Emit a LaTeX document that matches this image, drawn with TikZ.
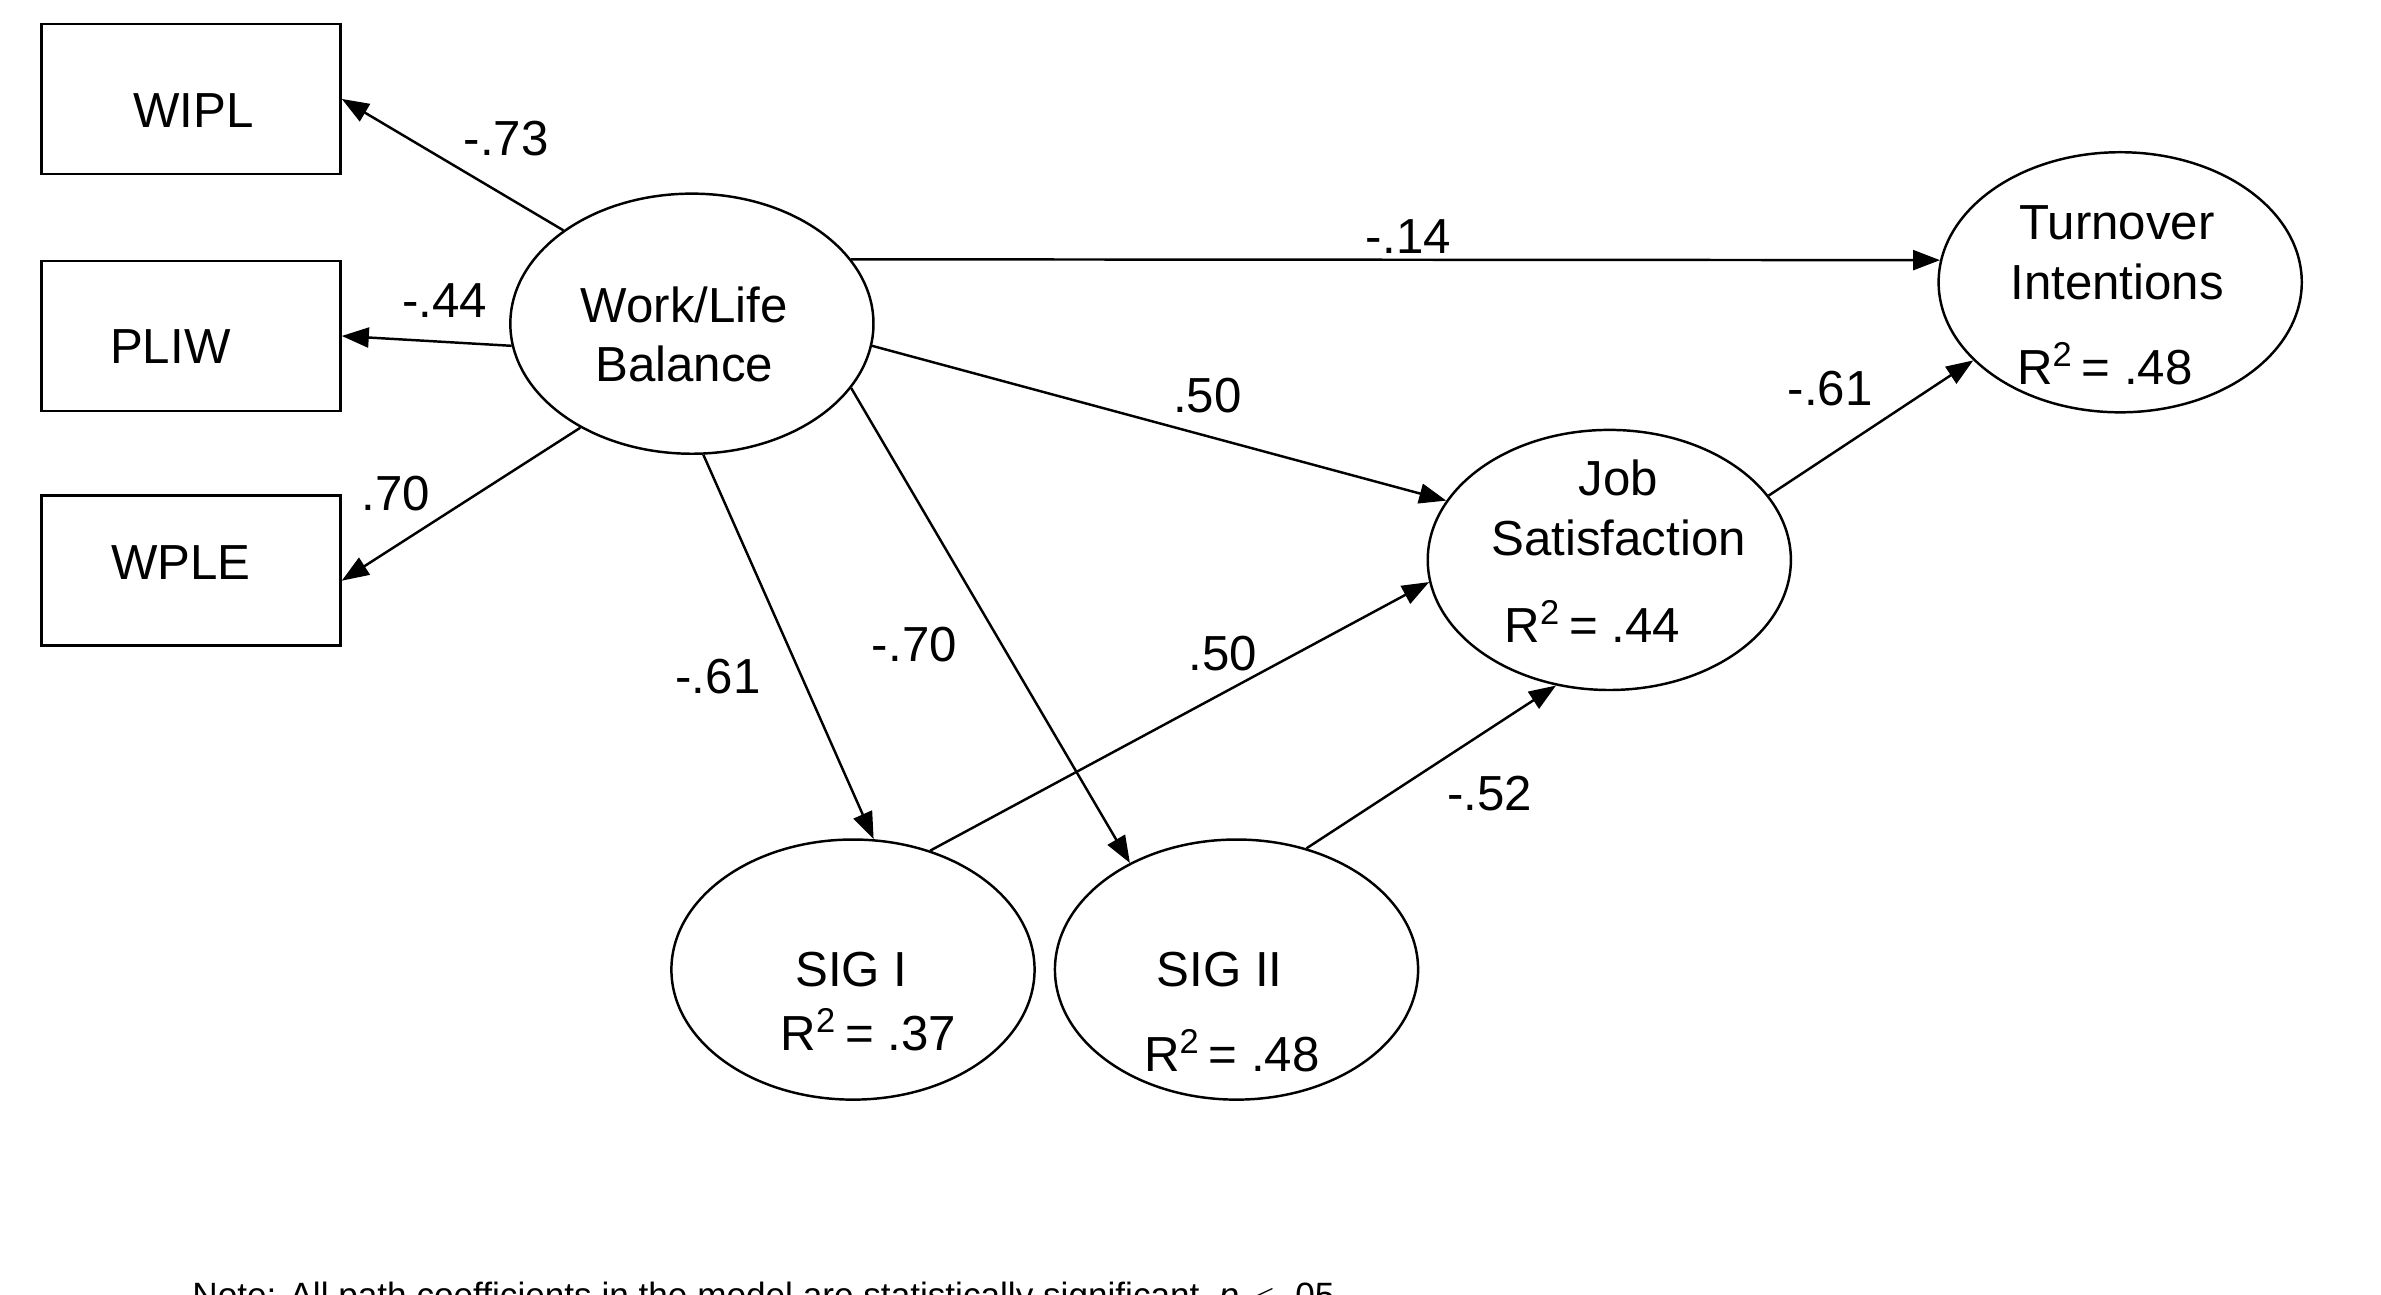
\documentclass[tikz,border=0pt]{standalone}
\usepackage{fontspec}
\setmainfont{Liberation Sans}
\usetikzlibrary{shapes.geometric,arrows.meta}

\begin{document}
\begin{tikzpicture}[x=0.01534cm,y=-0.01534cm,
    font=\fontsize{14}{17}\selectfont,
    box/.style={draw,line width=0.7pt,minimum width=2.99cm,minimum height=1.5cm,inner sep=0pt},
    latent/.style={draw,ellipse,line width=0.7pt,minimum width=3.63cm,minimum height=2.6cm,inner sep=0pt},
    path/.style={line width=0.7pt,-{Triangle[length=0.27cm,width=0.2cm]}},
    coef/.style={inner sep=0pt},
    rsq/.style={inner sep=0pt}]
    \useasboundingbox (0,0) rectangle (1552,844);
    % observed indicators
    \node[box] (wipl) at (124.5,64.5) {};
    \node[box] (pliw) at (124.5,219) {};
    \node[box] (wple) at (124.5,372) {};
    \node at (126,72) {WIPL};
    \node at (111,226) {PLIW};
    \node at (118,367) {WPLE};
    % latent variables
    \node[latent] (wlb) at (451,211) {};
    \node[latent] (turn) at (1382,184) {};
    \node[latent] (job) at (1049,365) {};
    \node[latent] (sigi) at (556,632) {};
    \node[latent] (sigii) at (806,632) {};
    \node[align=center] at (446,218) {Work/Life\\Balance};
    \node[align=center] at (1380,165) {Turnover\\Intentions};
    \node[align=center] at (1055,331) {Job\\Satisfaction};
    \node at (555,632) {SIG I};
    \node at (795,632) {SIG II};
    \node[rsq] at (1038,405) {R\textsuperscript{2}\,= .44};
    \node[rsq] at (1372,237) {R\textsuperscript{2}\,= .48};
    \node[rsq] at (566,671) {R\textsuperscript{2}\,= .37};
    \node[rsq] at (803,685) {R\textsuperscript{2}\,= .48};
    % paths
    \draw[path] (wlb.144) -- (wipl.east);
    \draw[path] (wlb.187) -- (pliw.east);
    \draw[path] (wlb.223) -- ([yshift=-0.1cm]wple.east);
    \draw[path] (wlb.22) -- (turn.173);
    \draw[path] (wlb.-7) -- (job.160);
    \draw[path] (wlb.-85) -- (sigi.81);
    \draw[path] (wlb.-22) -- (sigii.135);
    \draw[path] (sigi.57) -- (job.187);
    \draw[path] (sigii.60) -- (job.247);
    \draw[path] (job.22) -- (turn.208);
    % coefficients
    \node[coef] at (330,90) {-.73};
    \node[coef] at (290,196) {-.44};
    \node[coef] at (258,322) {.70};
    \node[coef] at (918,154) {-.14};
    \node[coef] at (787,258) {.50};
    \node[coef] at (468,441) {-.61};
    \node[coef] at (596,420) {-.70};
    \node[coef] at (797,426) {.50};
    \node[coef] at (971,517) {-.52};
    \node[coef] at (1193,253) {-.61};
    % note
    \node[anchor=base west,inner sep=0pt,font=\fontsize{10}{12}\selectfont] at (125,852) {Note: All path coefficients in the model are statistically significant, \textit{p} $<$ .05};
\end{tikzpicture}
\end{document}
